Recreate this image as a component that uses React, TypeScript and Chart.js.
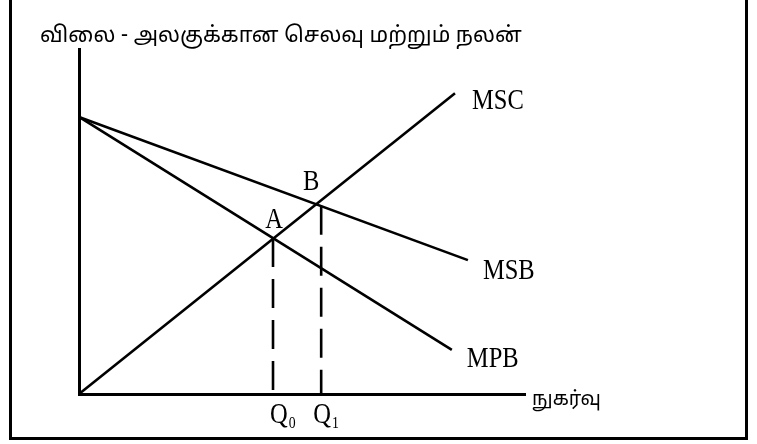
import React, { useEffect, useRef } from "react";
import { Chart, registerables } from "chart.js";

Chart.register(...registerables);

// ---- data (axis units 0..100) ----
const curveNames = ["MSC", "MSB", "MPB"];
const curveStartX = [0, 0, 0];
const curveStartY = [0, 80.3, 80.3];
const curveEndX = [84.3, 87.2, 83.6];
const curveEndY = [87.2, 38.8, 12.8];

const quantityNames = ["Q", "Q"];
const quantitySubs = ["0", "1"];
const quantityX = [43.5, 54.3];
const quantityTopY = [45.2, 54.6];

const pointNames = ["A", "B"];

const titleText = "விலை - அலகுக்கான செலவு மற்றும் நலன்";
const xAxisText = "நுகர்வு";

const SERIF = "'Liberation Serif', 'Times New Roman', serif";
const TAMIL = "'Noto Sans Tamil', 'Lohit Tamil', 'Noto Sans', sans-serif";

function drawText(
  ctx: CanvasRenderingContext2D,
  text: string,
  x: number,
  y: number,
  font: string,
  align: CanvasTextAlign,
  sx: number
): number {
  ctx.save();
  ctx.translate(x, y);
  ctx.scale(sx, 1);
  ctx.font = font;
  ctx.textAlign = align;
  ctx.textBaseline = "alphabetic";
  ctx.fillStyle = "#000";
  ctx.fillText(text, 0, 0);
  const w = ctx.measureText(text).width * sx;
  ctx.restore();
  return w;
}

const annotationPlugin = {
  id: "annotations",
  beforeDraw(chart: any) {
    const ctx: CanvasRenderingContext2D = chart.ctx;
    ctx.save();
    ctx.fillStyle = "#fff";
    ctx.fillRect(0, 0, chart.width, chart.height);
    ctx.strokeStyle = "#000";
    ctx.lineWidth = 3;
    ctx.strokeRect(10.5, -20, 736, 458.5);
    ctx.restore();
  },
  afterDatasetsDraw(chart: any) {
    const ctx: CanvasRenderingContext2D = chart.ctx;
    const xs = chart.scales.x;
    const ys = chart.scales.y;
    const latin = `28.5px ${SERIF}`;
    const sx = 0.86;

    // curve labels
    const offs = [
      [17, 16],
      [15, 19],
      [15, 17],
    ];
    curveNames.forEach((name, i) => {
      const px = xs.getPixelForValue(curveEndX[i]);
      const py = ys.getPixelForValue(curveEndY[i]);
      drawText(ctx, name, px + offs[i][0], py + offs[i][1], latin, "left", sx);
    });

    // point labels A, B
    const pOffs = [
      [1, -10],
      [-10, -16],
    ];
    pointNames.forEach((name, i) => {
      const px = xs.getPixelForValue(quantityX[i]);
      const py = ys.getPixelForValue(quantityTopY[i]);
      drawText(ctx, name, px + pOffs[i][0], py + pOffs[i][1], latin, "center", sx);
    });

    // Q labels
    const qOffs = [-3, -8];
    const base = ys.getPixelForValue(0);
    quantityNames.forEach((name, i) => {
      const px = xs.getPixelForValue(quantityX[i]) + qOffs[i];
      const w = drawText(ctx, name, px, base + 29, latin, "left", sx);
      drawText(ctx, quantitySubs[i], px + w + 1, base + 34, `16px ${SERIF}`, "left", sx);
    });

    // title
    drawText(ctx, titleText, 40, 42, `22px ${TAMIL}`, "left", 0.985);
    // x axis title
    drawText(ctx, xAxisText, xs.right + 7, base + 11, `19.5px ${TAMIL}`, "left", 1);
  },
};

export default function App() {
  const ref = useRef<HTMLCanvasElement | null>(null);

  useEffect(() => {
    if (!ref.current) return;
    const curveSets = curveNames.map((name, i) => ({
      label: name,
      data: [
        { x: curveStartX[i], y: curveStartY[i] },
        { x: curveEndX[i], y: curveEndY[i] },
      ],
      showLine: true,
      borderColor: "#000",
      borderWidth: 2.6,
      pointRadius: 0,
      clip: false as any,
    }));
    const dashSets = quantityNames.map((name, i) => ({
      label: name + quantitySubs[i],
      data: [
        { x: quantityX[i], y: quantityTopY[i] },
        { x: quantityX[i], y: 0 },
      ],
      showLine: true,
      borderColor: "#000",
      borderWidth: 2.6,
      borderDash: [29, 12],
      pointRadius: 0,
      clip: false as any,
    }));

    const chart = new Chart(ref.current, {
      type: "scatter",
      data: { datasets: [...curveSets, ...dashSets] as any },
      options: {
        animation: false,
        responsive: false,
        layout: { padding: { left: 79, right: 232, top: 49, bottom: 50 } },
        plugins: {
          legend: { display: false },
          tooltip: { enabled: false },
          title: { display: false },
        },
        scales: {
          x: {
            type: "linear",
            min: 0,
            max: 100,
            grid: { display: false, drawTicks: false },
            ticks: { display: false },
            border: { display: true, color: "#000", width: 3 },
          },
          y: {
            type: "linear",
            min: 0,
            max: 100,
            grid: { display: false, drawTicks: false },
            ticks: { display: false },
            border: { display: true, color: "#000", width: 3 },
          },
        },
      },
      plugins: [annotationPlugin],
    });
    return () => chart.destroy();
  }, []);

  return (
    <div style={{ position: "fixed", left: 0, top: 0, width: 757, height: 444, background: "#fff" }}>
      <canvas ref={ref} width={757} height={444} style={{ width: 757, height: 444, display: "block" }} />
    </div>
  );
}
